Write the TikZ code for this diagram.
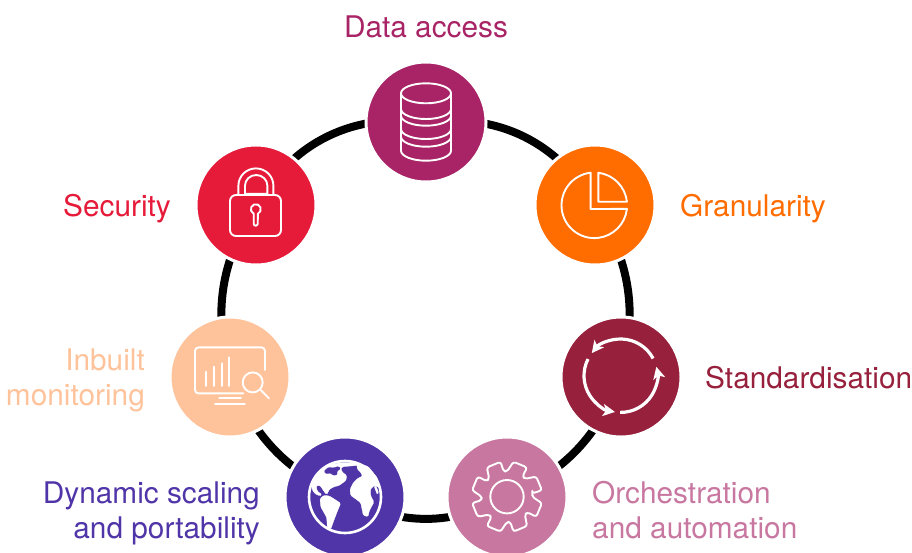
\documentclass[tikz,border=0pt]{standalone}
\usepackage{fontspec}
\setmainfont{TeX Gyre Heros}[FakeBold=-0.12]
\usetikzlibrary{arrows.meta,backgrounds}
\definecolor{cData}{HTML}{A82466}
\definecolor{cGran}{HTML}{FF6C00}
\definecolor{cStan}{HTML}{97203C}
\definecolor{cOrch}{HTML}{C878A0}
\definecolor{cDyn}{HTML}{5035A8}
\definecolor{cInb}{HTML}{FFC39B}
\definecolor{cSec}{HTML}{E61B3A}
\tikzset{
  x=1pt,y=1pt,
  hub/.style={circle,inner sep=0pt,minimum size=120pt,draw=white,line width=3pt,fill=#1},
  ringline/.style={line width=8pt,draw=black},
  icon/.style={draw=white,line width=1.9pt,line join=round,line cap=round},
  lbl/.style={font=\fontsize{29.8}{35}\selectfont,inner sep=0pt,text=#1},
  cyc/.style={draw=white,line width=3.2pt,-{Stealth[length=12pt,width=12pt,inset=3pt]}},
  land/.style={fill=white,draw=white,line width=.3pt,rounded corners=1.2pt},
  sea/.style={fill=cDyn,draw=cDyn,line width=.3pt,rounded corners=1.2pt},
}
\begin{document}
\begin{tikzpicture}
\useasboundingbox (0,-552) rectangle (912,0);
% hubs
\node[hub=cData] (data) at (426,-122) {};
\node[hub=cGran] (gran) at (595,-205) {};
\node[hub=cStan] (stan) at (621,-377) {};
\node[hub=cOrch] (orch) at (507,-497) {};
\node[hub=cDyn]  (dyn)  at (345,-497) {};
\node[hub=cInb]  (inb)  at (230,-377) {};
\node[hub=cSec]  (sec)  at (256,-205) {};
% connectors
\begin{scope}[on background layer]
\draw[ringline] (data.center) to[bend left=33] (gran.center);
\draw[ringline] (gran.center) to[bend left=23] (stan.center);
\draw[ringline] (stan.center) to[bend left=22] (orch.center);
\draw[ringline] (orch.center) to[bend left=27.5] (dyn.center);
\draw[ringline] (dyn.center) to[bend left=22] (inb.center);
\draw[ringline] (inb.center) to[bend left=23] (sec.center);
\draw[ringline] (sec.center) to[bend left=33] (data.center);
\end{scope}
% labels
\node[lbl=cData,anchor=base] (tdata) at (426,-37) {Data access};
\node[lbl=cGran,anchor=base west] (tgran) at (680,-216) {Granularity};
\node[lbl=cStan,anchor=base west] (tstan) at (705,-388) {Standardisation};
\node[lbl=cSec,anchor=base east] (tsec) at (171,-216) {Security};
\node[lbl=cInb,anchor=base east] (tinb1) at (145,-370) {Inbuilt};
\node[lbl=cInb,anchor=base east] (tinb2) at (145,-405) {monitoring};
\node[lbl=cDyn,anchor=base east] (tdyn1) at (260,-503) {Dynamic scaling};
\node[lbl=cDyn,anchor=base east] (tdyn2) at (260,-538) {and portability};
\node[lbl=cOrch,anchor=base west] (torch1) at (592,-503) {Orchestration};
\node[lbl=cOrch,anchor=base west] (torch2) at (592,-538) {and automation};
% database icon
\begin{scope}[shift={(426,-122)}]
\draw[icon] (0,28.7) ellipse[x radius=25pt,y radius=10pt];
\draw[icon] (-25,28.7) -- (-25,-28.7) arc[start angle=180,end angle=360,x radius=25pt,y radius=10pt] -- (25,28.7);
\foreach \yy in {13,6.3,-7,-14.7}{
  \draw[icon] (-25,\yy) arc[start angle=180,end angle=360,x radius=25pt,y radius=10pt];
}
\end{scope}
% pie icon
\begin{scope}[shift={(594.3,-205.3)}]
\draw[icon] (96.4:32.8) arc[start angle=96.4,end angle=353.7,radius=32.8pt] -- (-3.7,-3.7) -- cycle;
\draw[icon] (83:32.8) arc[start angle=83,end angle=6.3,radius=32.8pt] -- (4,3.6) -- cycle;
\end{scope}
% lock icon
\begin{scope}[shift={(255.7,-204.7)}]
\draw[icon,rounded corners=6pt] (-25.7,-31.3) rectangle (25.3,9.7);
\draw[icon] (-17.3,9.7) -- (-17.3,19) arc[start angle=180,end angle=0,x radius=17.5pt,y radius=17.3pt] -- (17.7,9.7);
\draw[icon] (-10.7,11) -- (-10.7,19) arc[start angle=180,end angle=0,x radius=11.2pt,y radius=10.7pt] -- (11.7,11) -- cycle;
\draw[icon] (-2,-9) arc[start angle=245,end angle=-65,radius=5pt] -- (2,-19) arc[start angle=0,end angle=-180,radius=2pt] -- cycle;
\end{scope}
% monitor icon
\begin{scope}[shift={(230,-376.7)}]
\draw[icon,rounded corners=3.5pt] (35,6.7) -- (35,29.3) -- (-35,29.3) -- (-35,-16.7) -- (13.3,-16.7);
\draw[icon] (-24,-9.3) -- (-24,5);
\draw[icon] (-16,-9.3) -- (-16,10);
\draw[icon] (-8.3,-9.3) -- (-8.3,13.3);
\draw[icon] (-0.7,-9.3) -- (-0.7,19.3);
\draw[icon] (22.7,-5.7) circle[radius=10pt];
\draw[icon] (30.7,-13.3) -- (39,-21.7);
\draw[icon] (-10.7,-21.7) -- (11,-21.7);
\draw[icon] (-15,-27.7) -- (15,-27.7);
\end{scope}
% cycle icon
\begin{scope}[shift={(620.7,-375.7)}]
\draw[cyc] (28:36.7) arc[start angle=28,end angle=142,radius=36.7pt];
\draw[cyc] (153:36.7) arc[start angle=153,end angle=261,radius=36.7pt];
\draw[cyc] (269:36.7) arc[start angle=269,end angle=374,radius=36.7pt];
\end{scope}
% gear icon
\begin{scope}[shift={(507,-496.7)}]
\draw[icon] (0,0) circle[radius=16.7pt];
\draw[icon,rounded corners=2.5pt] (7.5:25.5)
  \foreach \k in {0,...,7}{
    -- ({22.5+45*\k-12}:35.5) -- ({22.5+45*\k+12}:35.5) -- ({22.5+45*\k+22}:25.5) -- ({22.5+45*\k+30}:25.5)
  } -- cycle;
\end{scope}
% globe icon
\begin{scope}[shift={(345,-497)}]
\draw[draw=white,line width=2.6pt] (0,0) circle[radius=36pt];
\begin{scope}[x=0.3333pt,y=-0.3333pt,shift={(-135,-135)}]
\fill[land] (36,95) -- (50,70) -- (62,55) -- (85,38) -- (125,32) -- (170,32) -- (175,40) -- (128,44) -- (122,50) -- (128,62) -- (140,70) -- (138,85) -- (118,100) -- (100,105) -- (88,112) -- (80,128) -- (72,118) -- (60,100) -- (48,102) -- (52,118) -- (66,128) -- (60,132) -- (45,125) -- (36,112) -- cycle;
\fill[sea] (72,58) -- (85,46) -- (100,48) -- (116,43) -- (122,50) -- (110,58) -- (112,68) -- (100,70) -- (90,62) -- (80,66) -- cycle;
\fill[land] (170,32) -- (205,44) -- (232,78) -- (240,108) -- (224,100) -- (212,110) -- (212,132) -- (222,150) -- (208,176) -- (204,194) -- (190,190) -- (182,152) -- (166,140) -- (152,130) -- (150,112) -- (160,92) -- (172,80) -- (188,72) -- (180,58) -- (172,52) -- cycle;
\fill[land] (60,140) -- (72,130) -- (88,132) -- (104,142) -- (122,154) -- (112,178) -- (102,204) -- (92,232) -- (82,226) -- (80,196) -- (62,164) -- cycle;
\fill[land] (222,102) -- (228,102) -- (236,122) -- (232,128) -- cycle;
\end{scope}
\end{scope}
\end{tikzpicture}
\end{document}
